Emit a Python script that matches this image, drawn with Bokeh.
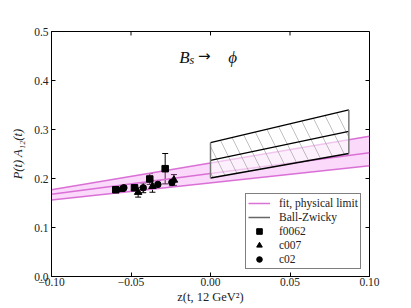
from bokeh.plotting import figure
from bokeh.models import (ColumnDataSource, Whisker, TeeHead, Label, Legend, LegendItem,
                          FixedTicker, Range1d)
from bokeh.embed import file_html
from bokeh.resources import INLINE

# ---------------- data ----------------
fit_z = [-0.10, 0.10]
fit_upper = [0.177, 0.286]
fit_central = [0.168, 0.2525]
fit_lower = [0.156, 0.226]

bz_z = [0.0, 0.087]
bz_upper = [0.273, 0.340]
bz_central = [0.237, 0.296]
bz_lower = [0.201, 0.251]

f0062_z = [-0.0596, -0.0478, -0.0382, -0.0285]
f0062_val = [0.177, 0.181, 0.199, 0.220]
f0062_err = [0.003, 0.004, 0.011, 0.031]

c007_z = [-0.0560, -0.0455, -0.0365, -0.0230]
c007_val = [0.178, 0.172, 0.184, 0.197]
c007_err = [0.004, 0.010, 0.012, 0.011]

c02_z = [-0.0545, -0.0423, -0.0331, -0.0243]
c02_val = [0.181, 0.181, 0.188, 0.192]
c02_err = [0.004, 0.010, 0.008, 0.007]

x_ticks = [-0.10, -0.05, 0.0, 0.05, 0.10]
x_tick_labels = ["\u22120.10", "\u22120.05", "0.00", "0.05", "0.10"]
y_ticks = [0.0, 0.1, 0.2, 0.3, 0.4, 0.5]
y_tick_labels = ["0.0", "0.1", "0.2", "0.3", "0.4", "0.5"]

X_MIN, X_MAX = -0.10, 0.10
Y_MIN, Y_MAX = 0.0, 0.5

FONT = "Liberation Serif"
PINK = "#da70d6"
PINK_FILL = "#ee82ee"

FRAME_W, FRAME_H = 318, 247
p = figure(width=403, height=306, x_range=Range1d(X_MIN, X_MAX), y_range=Range1d(Y_MIN, Y_MAX),
           output_backend="svg", toolbar_location=None,
           min_border_left=51, min_border_right=34, min_border_top=31, min_border_bottom=28)
p.grid.visible = False
p.outline_line_color = "black"
p.outline_line_width = 1
p.background_fill_color = "white"
p.border_fill_color = "white"

for ax in (p.xaxis[0], p.yaxis[0]):
    ax.major_tick_in = 4
    ax.major_tick_out = 0
    ax.minor_tick_in = 0
    ax.minor_tick_out = 0
    ax.axis_line_color = "black"
    ax.major_tick_line_color = "black"
    ax.major_label_text_font = FONT
    ax.major_label_text_font_size = "11.5px"
    ax.major_label_text_color = "#222222"
    ax.axis_label_text_font = FONT
    ax.axis_label_text_font_size = "12.5px"
    ax.axis_label_text_color = "#222222"

p.xaxis.ticker = FixedTicker(ticks=x_ticks)
p.xaxis.major_label_overrides = dict(zip(x_ticks, x_tick_labels))
p.yaxis.ticker = FixedTicker(ticks=y_ticks)
p.yaxis.major_label_overrides = dict(zip(y_ticks, y_tick_labels))
p.xaxis.major_label_standoff = 1
p.yaxis.major_label_standoff = 3
p.yaxis.axis_label = "P(t) A\u2081\u2082(t)"
p.yaxis.axis_label_text_font_style = "italic"
p.yaxis.axis_label_standoff = 6
p.xaxis.axis_label = "z(t, 12 GeV\u00b2)"
p.xaxis.axis_label_text_font_style = "normal"
p.xaxis.axis_label_standoff = 1

# inward ticks on the top and right edges (4 px long)
dy = 4 * (Y_MAX - Y_MIN) / FRAME_H
dx = 4 * (X_MAX - X_MIN) / FRAME_W
p.segment(x0=x_ticks, x1=x_ticks, y0=[Y_MAX] * len(x_ticks), y1=[Y_MAX - dy] * len(x_ticks),
          line_color="black", line_width=1)
p.segment(x0=[X_MAX] * len(y_ticks), x1=[X_MAX - dx] * len(y_ticks), y0=y_ticks, y1=y_ticks,
          line_color="black", line_width=1)

# fit band
fit_src = ColumnDataSource(dict(z=fit_z, up=fit_upper, mid=fit_central, lo=fit_lower))
p.varea(x="z", y1="lo", y2="up", source=fit_src, fill_color=PINK_FILL, fill_alpha=0.3)
p.line(x="z", y="up", source=fit_src, line_color=PINK, line_width=1.5)
p.line(x="z", y="lo", source=fit_src, line_color=PINK, line_width=1.5)
fit_line = p.line(x="z", y="mid", source=fit_src, line_color=PINK, line_width=1.5)

# Ball-Zwicky box
bz_src = ColumnDataSource(dict(z=bz_z, up=bz_upper, mid=bz_central, lo=bz_lower))
p.varea(x="z", y1="lo", y2="up", source=bz_src, fill_color="white", fill_alpha=0.6,
        hatch_pattern="\\", hatch_color="#8a8a8a", hatch_weight=0.6, hatch_scale=26,
        hatch_alpha=0.9)
for col in ("up", "mid", "lo"):
    p.line(x="z", y=col, source=bz_src, line_color="black", line_width=1.3)
edge_src = ColumnDataSource(dict(x0=[bz_z[0], bz_z[1]], x1=[bz_z[0], bz_z[1]],
                                 y0=[bz_lower[0], bz_lower[1]], y1=[bz_upper[0], bz_upper[1]]))
p.segment(x0="x0", y0="y0", x1="x1", y1="y1", source=edge_src, line_color="#777777", line_width=1.5)
bz_legend = p.line(x=[bz_z[0]], y=[bz_central[0]], line_color="#666666", line_width=1.5)

# data points with error bars
def series(z, v, e, marker, size):
    src = ColumnDataSource(dict(z=z, v=v, lo=[a - b for a, b in zip(v, e)],
                                hi=[a + b for a, b in zip(v, e)]))
    w = Whisker(base="z", upper="hi", lower="lo", source=src, dimension="height",
                line_color="black", line_width=1,
                upper_head=TeeHead(size=6, line_color="black", line_width=1),
                lower_head=TeeHead(size=6, line_color="black", line_width=1))
    p.add_layout(w)
    return p.scatter(x="z", y="v", source=src, marker=marker, size=size,
                     fill_color="black", line_color="black")

r_f = series(f0062_z, f0062_val, f0062_err, "square", 6.5)
r_t = series(c007_z, c007_val, c007_err, "triangle", 7.5)
r_c = series(c02_z, c02_val, c02_err, "circle", 6.5)

legend = Legend(items=[
    LegendItem(label="fit, physical limit", renderers=[fit_line]),
    LegendItem(label="Ball-Zwicky", renderers=[bz_legend]),
    LegendItem(label="f0062", renderers=[r_f]),
    LegendItem(label="c007", renderers=[r_t]),
    LegendItem(label="c02", renderers=[r_c]),
], location=(194, 7))
legend.label_text_font = FONT
legend.label_text_font_size = "11.5px"
legend.label_text_color = "#222222"
legend.glyph_width = 22
legend.glyph_height = 14
legend.label_height = 14
legend.spacing = 0
legend.padding = 2
legend.margin = 0
legend.label_standoff = 9
legend.border_line_color = "black"
legend.border_line_width = 1
legend.background_fill_color = "white"
legend.background_fill_alpha = 1
p.add_layout(legend, "center")

# title inside plot
title_parts = [("B", -0.0196, 0.446, "17px", "italic", FONT),
               ("s", -0.0132, 0.441, "12px", "italic", FONT),
               ("\u2192", -0.0078, 0.449, "15px", "normal", "DejaVu Sans"),
               ("\u03d5", 0.0112, 0.446, "17px", "italic", FONT)]
for t, x, y, fs, st, fnt in title_parts:
    p.add_layout(Label(x=x, y=y, text=t, text_font=fnt, text_font_size=fs,
                       text_font_style=st, text_color="#111111", text_baseline="alphabetic"))

open("out.html", "w").write(file_html(p, INLINE))
